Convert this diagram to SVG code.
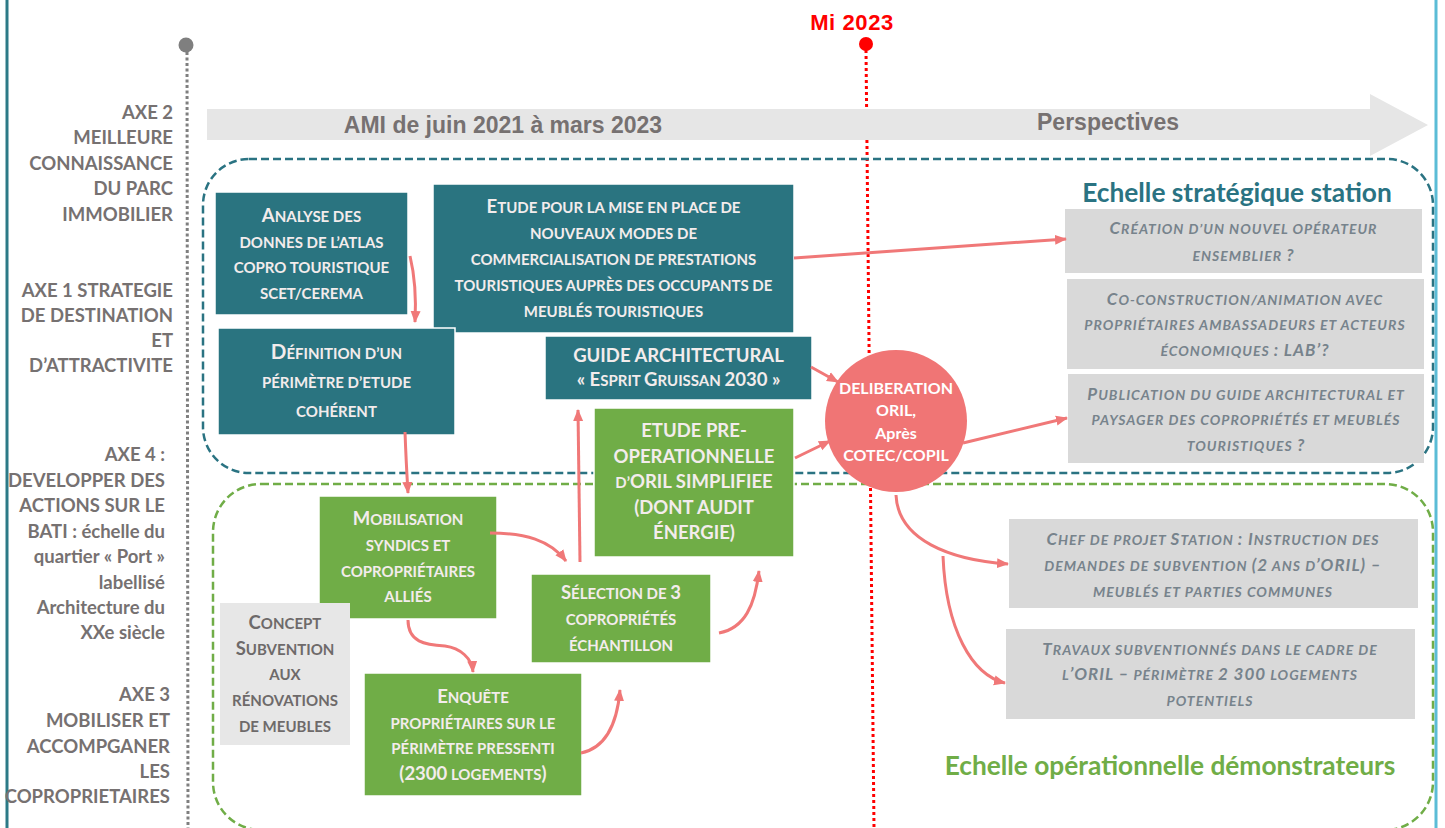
<svg xmlns="http://www.w3.org/2000/svg" width="1445" height="828" viewBox="0 0 1445 828">
<style>
.ax{font-family:Lato,"Liberation Sans",sans-serif;font-weight:700;font-size:18.5px;fill:#767171;text-anchor:end}
.bx{font-family:Lato,"Liberation Sans",sans-serif;font-weight:700;fill:#f3ecec;text-anchor:middle;font-size:15px}
.gy{font-family:Lato,"Liberation Sans",sans-serif;font-weight:700;font-style:italic;fill:#77838c;text-anchor:middle;font-size:14px;letter-spacing:1px}
.cc{font-family:Lato,"Liberation Sans",sans-serif;font-weight:700;fill:#6e6a6a;text-anchor:middle;font-size:15px}
.C{font-size:18.5px}
.Cg{font-size:17px}
.teal{fill:#2a7480;stroke:#fff;stroke-width:1.5}
.green{fill:#70ad47;stroke:#fff;stroke-width:1.5}
.grey{fill:#d9d9d9}
.arr{fill:none;stroke:#f07878;stroke-width:3;marker-end:url(#ah)}
.tl{font-family:"Liberation Sans",Arial,sans-serif;font-weight:700;font-size:23px;fill:#767171;text-anchor:middle}
.ttl{font-family:Lato,"Liberation Sans",sans-serif;font-weight:700;font-size:26.3px;text-anchor:middle}
</style>
<defs>
<marker id="ah" markerUnits="userSpaceOnUse" markerWidth="12" markerHeight="12" refX="11" refY="6" orient="auto">
<path d="M0,1 L12,6 L0,11 z" fill="#f07878"/>
</marker>
</defs>

<!-- frame lines -->
<line x1="7" y1="0" x2="7" y2="828" stroke="#2c7a87" stroke-width="3"/>
<line x1="1436" y1="0" x2="1436" y2="828" stroke="#5bbcd6" stroke-width="3"/>

<!-- timeline markers -->
<g id="start-marker">
<line x1="187" y1="52" x2="188" y2="828" stroke="#7f7f7f" stroke-width="3" stroke-dasharray="3 2.5"/>
<circle cx="186" cy="45" r="7.5" fill="#7f7f7f"/>
</g>
<g id="mid-2023">
<line x1="866" y1="50" x2="874" y2="828" stroke="#ff0000" stroke-width="3" stroke-dasharray="3 3"/>
<circle cx="866" cy="44" r="7" fill="#ff0000"/>
<text x="852" y="30" font-family="Liberation Sans, Arial, sans-serif" font-weight="700" font-size="22" letter-spacing="0.6" fill="#ff0000" text-anchor="middle">Mi 2023</text>
</g>

<!-- time arrow -->
<g id="time-arrow">
<path d="M207,109 H1370 V94 L1428,125 L1370,156 V140 H207 z" fill="#e6e6e6"/>
<text class="tl" x="503" y="133">AMI de juin 2021 à mars 2023</text>
<text class="tl" x="1108" y="130">Perspectives</text>
</g>

<!-- scale areas -->
<g id="zone-strategique">
<rect x="203" y="159" width="1230" height="314" rx="46" fill="none" stroke="#2a7382" stroke-width="2.5" stroke-dasharray="8 4"/>
<text class="ttl" x="1237" y="202" fill="#2a7382">Echelle stratégique station</text>
</g>
<g id="zone-operationnelle">
<rect x="213" y="484" width="1220" height="346" rx="48" fill="none" stroke="#70ad47" stroke-width="2.5" stroke-dasharray="8 4"/>
<text class="ttl" x="1170" y="775" fill="#70ad47">Echelle opérationnelle démonstrateurs</text>
</g>

<!-- axis labels -->
<g id="axe-2">
<text class="ax" x="173" y="119">AXE 2</text>
<text class="ax" x="173" y="144">MEILLEURE</text>
<text class="ax" x="173" y="170">CONNAISSANCE</text>
<text class="ax" x="173" y="195">DU PARC</text>
<text class="ax" x="173" y="221">IMMOBILIER</text>
</g>
<g id="axe-1">
<text class="ax" x="173" y="297">AXE 1 STRATEGIE</text>
<text class="ax" x="173" y="322">DE DESTINATION</text>
<text class="ax" x="173" y="347">ET</text>
<text class="ax" x="173" y="372">D’ATTRACTIVITE</text>
</g>
<g id="axe-4">
<text class="ax" x="165" y="461">AXE 4 :</text>
<text class="ax" x="165" y="487">DEVELOPPER DES</text>
<text class="ax" x="165" y="512">ACTIONS SUR LE</text>
<text class="ax" x="165" y="538">BATI : échelle du</text>
<text class="ax" x="165" y="563">quartier « Port »</text>
<text class="ax" x="165" y="589">labellisé</text>
<text class="ax" x="165" y="614">Architecture du</text>
<text class="ax" x="165" y="639">XXe siècle</text>
</g>
<g id="axe-3">
<text class="ax" x="170" y="701">AXE 3</text>
<text class="ax" x="170" y="727">MOBILISER ET</text>
<text class="ax" x="170" y="753">ACCOMPGANER</text>
<text class="ax" x="170" y="778">LES</text>
<text class="ax" x="170" y="803">COPROPRIETAIRES</text>
</g>

<!-- strategic actions -->
<g id="analyse-atlas">
<rect class="teal" x="215" y="192" width="193" height="123"/>
<text class="bx" x="311.5" y="222"><tspan class="C">A</tspan>NALYSE DES</text>
<text class="bx" x="311.5" y="248">DONNES DE L’ATLAS</text>
<text class="bx" x="311.5" y="273">COPRO TOURISTIQUE</text>
<text class="bx" x="311.5" y="299">SCET/CEREMA</text>
</g>
<g id="etude-commercialisation">
<rect class="teal" x="433" y="184" width="361" height="149"/>
<text class="bx" x="613.5" y="213"><tspan class="C">E</tspan>TUDE POUR LA MISE EN PLACE DE</text>
<text class="bx" x="613.5" y="239">NOUVEAUX MODES DE</text>
<text class="bx" x="613.5" y="265">COMMERCIALISATION DE PRESTATIONS</text>
<text class="bx" x="613.5" y="291">TOURISTIQUES AUPRÈS DES OCCUPANTS DE</text>
<text class="bx" x="613.5" y="317">MEUBLÉS TOURISTIQUES</text>
</g>
<g id="definition-perimetre">
<rect class="teal" x="218" y="328" width="237" height="107"/>
<text class="bx" x="336.5" y="359" font-size="17.5"><tspan font-size="20.5">D</tspan>ÉFINITION D’UN</text>
<text class="bx" x="336.5" y="388" font-size="17.5">PÉRIMÈTRE D’ETUDE</text>
<text class="bx" x="336.5" y="417" font-size="17.5">COHÉRENT</text>
</g>
<g id="guide-architectural">
<rect class="teal" x="545" y="336" width="267" height="64"/>
<text class="bx" x="678.5" y="362"><tspan class="C">GUIDE ARCHITECTURAL</tspan></text>
<text class="bx" x="678.5" y="386"><tspan class="C">« E</tspan>SPRIT <tspan class="C">G</tspan>RUISSAN <tspan class="C">2030 »</tspan></text>
</g>

<!-- operational actions -->
<g id="etude-pre-operationnelle">
<rect class="green" x="594" y="408" width="200" height="149"/>
<text class="bx" x="694" y="437"><tspan class="C">ETUDE PRE-</tspan></text>
<text class="bx" x="694" y="463"><tspan class="C">OPERATIONNELLE</tspan></text>
<text class="bx" x="694" y="488">D’<tspan class="C">ORIL SIMPLIFIEE</tspan></text>
<text class="bx" x="694" y="514"><tspan class="C">(DONT AUDIT</tspan></text>
<text class="bx" x="694" y="539"><tspan class="C">ÉNERGIE)</tspan></text>
</g>
<g id="selection-coproprietes">
<rect class="green" x="531" y="574" width="180" height="89"/>
<text class="bx" x="621" y="599"><tspan class="C">S</tspan>ÉLECTION DE <tspan class="C">3</tspan></text>
<text class="bx" x="621" y="625">COPROPRIÉTÉS</text>
<text class="bx" x="621" y="651">ÉCHANTILLON</text>
</g>
<g id="mobilisation-syndics">
<rect class="green" x="319" y="496" width="178" height="123"/>
<text class="bx" x="408" y="525"><tspan class="C">M</tspan>OBILISATION</text>
<text class="bx" x="408" y="551">SYNDICS ET</text>
<text class="bx" x="408" y="577">COPROPRIÉTAIRES</text>
<text class="bx" x="408" y="602">ALLIÉS</text>
</g>
<g id="enquete-proprietaires">
<rect class="green" x="364" y="673" width="218" height="123"/>
<text class="bx" x="473" y="703"><tspan class="C">E</tspan>NQUÊTE</text>
<text class="bx" x="473" y="729">PROPRIÉTAIRES SUR LE</text>
<text class="bx" x="473" y="754">PÉRIMÈTRE PRESSENTI</text>
<text class="bx" x="473" y="780"><tspan class="C">(2300</tspan> LOGEMENTS<tspan class="C">)</tspan></text>
</g>
<g id="concept-subvention">
<rect x="220" y="603" width="130" height="142" fill="#e7e7e7"/>
<text class="cc" x="285" y="629"><tspan class="C">C</tspan>ONCEPT</text>
<text class="cc" x="285" y="655"><tspan class="C">S</tspan>UBVENTION</text>
<text class="cc" x="285" y="680">AUX</text>
<text class="cc" x="285" y="706">RÉNOVATIONS</text>
<text class="cc" x="285" y="732">DE MEUBLES</text>
</g>

<!-- decision -->
<g id="deliberation-oril">
<circle cx="896" cy="421" r="71" fill="#f07575"/>
<g font-family="Lato, 'Liberation Sans', sans-serif" font-weight="700" font-size="16" fill="#fff" text-anchor="middle">
<text x="896" y="394">DELIBERATION</text>
<text x="896" y="416">ORIL,</text>
<text x="896" y="439">Après</text>
<text x="896" y="461">COTEC/COPIL</text>
</g>
</g>

<!-- perspectives -->
<g id="nouvel-operateur">
<rect class="grey" x="1065" y="209" width="357" height="64"/>
<text class="gy" x="1243.5" y="234"><tspan class="Cg">C</tspan>RÉATION D’UN NOUVEL OPÉRATEUR</text>
<text class="gy" x="1243.5" y="261">ENSEMBLIER <tspan class="Cg">?</tspan></text>
</g>
<g id="co-construction">
<rect class="grey" x="1067" y="279" width="357" height="90"/>
<text class="gy" x="1245" y="305"><tspan class="Cg">C</tspan>O-CONSTRUCTION/ANIMATION AVEC</text>
<text class="gy" x="1245" y="330">PROPRIÉTAIRES AMBASSADEURS ET ACTEURS</text>
<text class="gy" x="1245" y="356">ÉCONOMIQUES <tspan class="Cg">: LAB’?</tspan></text>
</g>
<g id="publication-guide">
<rect class="grey" x="1068" y="374" width="356" height="89"/>
<text class="gy" x="1246" y="400"><tspan class="Cg">P</tspan>UBLICATION DU GUIDE ARCHITECTURAL ET</text>
<text class="gy" x="1246" y="425">PAYSAGER DES COPROPRIÉTÉS ET MEUBLÉS</text>
<text class="gy" x="1246" y="451">TOURISTIQUES <tspan class="Cg">?</tspan></text>
</g>
<g id="chef-projet">
<rect class="grey" x="1009" y="519" width="409" height="89"/>
<text class="gy" x="1213" y="545"><tspan class="Cg">C</tspan>HEF DE PROJET <tspan class="Cg">S</tspan>TATION <tspan class="Cg">: I</tspan>NSTRUCTION DES</text>
<text class="gy" x="1213" y="571">DEMANDES DE SUBVENTION <tspan class="Cg">(2</tspan> ANS D<tspan class="Cg">’ORIL) –</tspan></text>
<text class="gy" x="1213" y="597">MEUBLÉS ET PARTIES COMMUNES</text>
</g>
<g id="travaux-subventionnes">
<rect class="grey" x="1006" y="629" width="409" height="90"/>
<text class="gy" x="1210" y="655"><tspan class="Cg">T</tspan>RAVAUX SUBVENTIONNÉS DANS LE CADRE DE</text>
<text class="gy" x="1210" y="680">L<tspan class="Cg">’ORIL –</tspan> PÉRIMÈTRE <tspan class="Cg">2 300</tspan> LOGEMENTS</text>
<text class="gy" x="1210" y="706">POTENTIELS</text>
</g>

<!-- connectors -->
<g id="connectors">
<path class="arr" d="M410,256 Q417,285 415,322"/>
<path class="arr" d="M405,432 Q406,460 408,493"/>
<path class="arr" d="M490,533 C525,533 550,540 566,561"/>
<path class="arr" d="M408,620 C408,642 425,645 445,646 C460,648 472,658 473,672"/>
<path class="arr" d="M581,753 C605,748 617,725 620,690"/>
<path class="arr" d="M580,562 Q579,490 578,410"/>
<path class="arr" d="M719,633 C745,628 755,605 759,571"/>
<path class="arr" d="M811,367 L838,382"/>
<path class="arr" d="M795,458 L830,441"/>
<path class="arr" d="M794,258 L1066,239"/>
<path class="arr" d="M963,443 L1067,418"/>
<path class="arr" d="M896,495 C898,540 950,560 1008,564"/>
<path class="arr" d="M943,556 C946,630 972,675 1005,683"/>
</g>
</svg>
